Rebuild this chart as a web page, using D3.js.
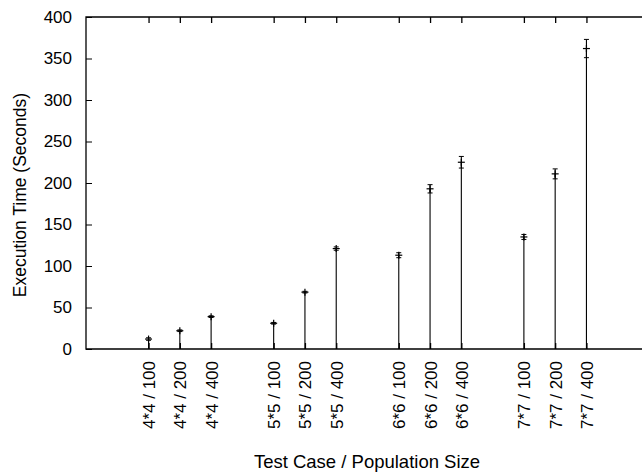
<!DOCTYPE html>
<html>
<head>
<meta charset="utf-8">
<script src="https://cdn.jsdelivr.net/npm/d3@7/dist/d3.min.js"></script>
<style>
  html, body { margin: 0; padding: 0; background: #fff; }
  svg { display: block; }
  text { font-family: "Liberation Sans", Arial, Helvetica, sans-serif; fill: #000; }
</style>
</head>
<body>
<svg id="chart" width="642" height="473"></svg>
<script>
// ---- data ----
const categories = ["4*4 / 100", "4*4 / 200", "4*4 / 400",
                    "5*5 / 100", "5*5 / 200", "5*5 / 400",
                    "6*6 / 100", "6*6 / 200", "6*6 / 400",
                    "7*7 / 100", "7*7 / 200", "7*7 / 400"];
const positions = [2, 3, 4, 6, 7, 8, 10, 11, 12, 14, 15, 16];
const times     = [12, 22, 39, 31, 68.5, 121, 113, 193, 225, 135, 211, 362];
const errors    = [1.5, 1, 1, 1, 1, 2, 3, 5, 7, 3, 6, 11];
const yTicks    = [0, 50, 100, 150, 200, 250, 300, 350, 400];

// ---- layout ----
const svg = d3.select("#chart");
const pLeft = 86, pRight = 649, pTop = 17, pBottom = 349;
const x = d3.scaleLinear().domain([0, 18]).range([pLeft, pRight]);
const y = d3.scaleLinear().domain([0, 400]).range([pBottom, pTop]);
const fontSize = 17;
const tickLen = 6;

const g = svg.append("g");
g.append("path")
  .attr("d", `M${pRight},${pTop}H${pLeft}V${pBottom}H${pRight}`)
  .attr("fill", "none").attr("stroke", "#000").attr("stroke-width", 1.3);

// y axis ticks (inward) and labels
const yAxis = d3.axisLeft(y).tickValues(yTicks).tickSizeInner(-tickLen).tickSizeOuter(0).tickPadding(14);
const ya = g.append("g").attr("transform", `translate(${pLeft},0)`).call(yAxis);
ya.select(".domain").remove();
ya.selectAll(".tick line").attr("stroke", "#000").attr("stroke-width", 1);
ya.selectAll(".tick text").style("font-size", fontSize + "px")
  .style("font-family", "'Liberation Sans', Arial, sans-serif").attr("fill", "#000");

// x axis (bottom) ticks inward, labels rotated
const xAxis = d3.axisBottom(x).tickValues(positions)
  .tickFormat((d, i) => categories[i]).tickSizeInner(-tickLen).tickSizeOuter(0);
const xa = g.append("g").attr("transform", `translate(0,${pBottom})`).call(xAxis);
xa.select(".domain").remove();
xa.selectAll(".tick line").attr("stroke", "#000").attr("stroke-width", 1.3);
xa.selectAll(".tick text")
  .style("font-size", fontSize + "px")
  .style("font-family", "'Liberation Sans', Arial, sans-serif")
  .attr("fill", "#000")
  .attr("transform", "rotate(-90)")
  .attr("text-anchor", "end")
  .attr("x", -12).attr("y", 0).attr("dy", "0.35em");

// top mirror ticks
const xTop = d3.axisTop(x).tickValues(positions).tickFormat("").tickSizeInner(-tickLen).tickSizeOuter(0);
const xt = g.append("g").attr("transform", `translate(0,${pTop})`).call(xTop);
xt.select(".domain").remove();
xt.selectAll(".tick line").attr("stroke", "#000").attr("stroke-width", 1.3);

// impulses
const marks = g.append("g");
marks.selectAll("line.impulse").data(positions).join("line")
  .attr("class", "impulse")
  .attr("x1", d => x(d)).attr("x2", d => x(d))
  .attr("y1", y(0)).attr("y2", (d, i) => y(times[i]))
  .attr("stroke", "#000").attr("stroke-width", 1.1);

// error bars
const eb = marks.selectAll("g.err").data(positions).join("g").attr("class", "err");
eb.append("line")
  .attr("x1", d => x(d)).attr("x2", d => x(d))
  .attr("y1", (d, i) => y(times[i] - errors[i])).attr("y2", (d, i) => y(times[i] + errors[i]))
  .attr("stroke", "#000").attr("stroke-width", 1.1);
eb.append("line")
  .attr("x1", d => x(d) - 2.5).attr("x2", d => x(d) + 2.5)
  .attr("y1", (d, i) => y(times[i] + errors[i])).attr("y2", (d, i) => y(times[i] + errors[i]))
  .attr("stroke", "#000").attr("stroke-width", 1);
eb.append("line")
  .attr("x1", d => x(d) - 2.5).attr("x2", d => x(d) + 2.5)
  .attr("y1", (d, i) => y(times[i] - errors[i])).attr("y2", (d, i) => y(times[i] - errors[i]))
  .attr("stroke", "#000").attr("stroke-width", 1);
eb.append("line")
  .attr("x1", d => x(d) - 3.5).attr("x2", d => x(d) + 3.5)
  .attr("y1", (d, i) => y(times[i])).attr("y2", (d, i) => y(times[i]))
  .attr("stroke", "#000").attr("stroke-width", 1.2);
eb.append("line")
  .attr("x1", d => x(d)).attr("x2", d => x(d))
  .attr("y1", (d, i) => y(times[i]) - 3.5).attr("y2", (d, i) => y(times[i]) + 3.5)
  .attr("stroke", "#000").attr("stroke-width", 1.2);

// axis titles
svg.append("text")
  .attr("x", 367).attr("y", 468)
  .attr("text-anchor", "middle")
  .style("font-size", "18.5px")
  .text("Test Case / Population Size");
svg.append("text")
  .attr("transform", `translate(26,195) rotate(-90)`)
  .attr("text-anchor", "middle")
  .style("font-size", "17.5px")
  .text("Execution Time (Seconds)");
</script>
</body>
</html>
